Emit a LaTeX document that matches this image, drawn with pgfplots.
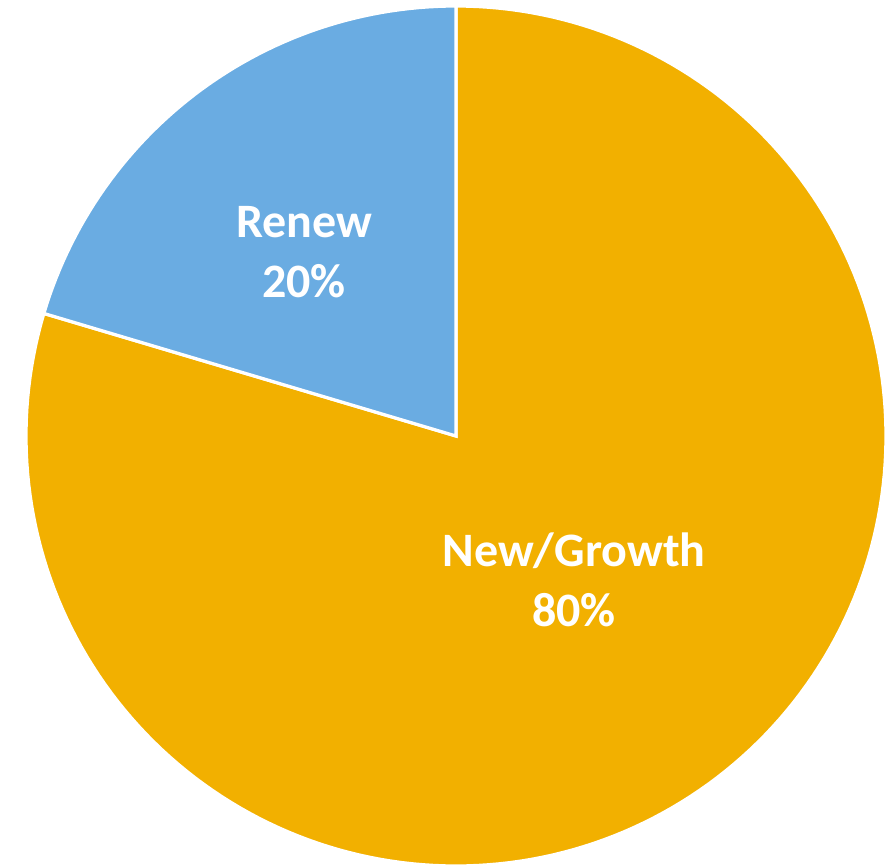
\documentclass[border=0pt]{standalone}
\usepackage{pgfplots}
\pgfplotsset{compat=1.18}
\usepackage{fontspec}
\setmainfont{Carlito}
\definecolor{gold}{HTML}{F2B000}
\definecolor{sky}{HTML}{6AACE2}
% data: shares in percent (shown rounded as 80% / 20%)
\def\valNew{79.6}
\def\valRenew{20.4}
\begin{document}
\begin{tikzpicture}
\pgfmathsetmacro{\aStart}{90}
\pgfmathsetmacro{\aNewEnd}{90-3.6*\valNew}
\pgfmathsetmacro{\aRenewEnd}{90+3.6*\valRenew}
\begin{axis}[
  hide axis, scale only axis, clip=false,
  width=447.5pt, height=432pt,
  xmin=-456, xmax=439, ymin=-428, ymax=436,
]
\addplot[draw=none, forget plot] coordinates {(-456,-428) (439,436)};
\addplot[fill=gold, draw=white, line width=1.6pt, domain=\aNewEnd:\aStart, samples=200, variable=\t]
  ({430*cos(\t)},{430*sin(\t)}) -- (axis cs:0,0) -- cycle;
\addplot[fill=sky, draw=white, line width=1.6pt, domain=\aStart:\aRenewEnd, samples=60, variable=\t]
  ({430*cos(\t)},{430*sin(\t)}) -- (axis cs:0,0) -- cycle;
\node[text=white, font=\fontsize{24}{30}\selectfont\bfseries, align=center] at (axis cs:-152,184) {Renew\\20\%};
\node[text=white, font=\fontsize{24}{30}\selectfont\bfseries, align=center] at (axis cs:118,-144) {New/Growth\\80\%};
\end{axis}
\end{tikzpicture}
\end{document}
